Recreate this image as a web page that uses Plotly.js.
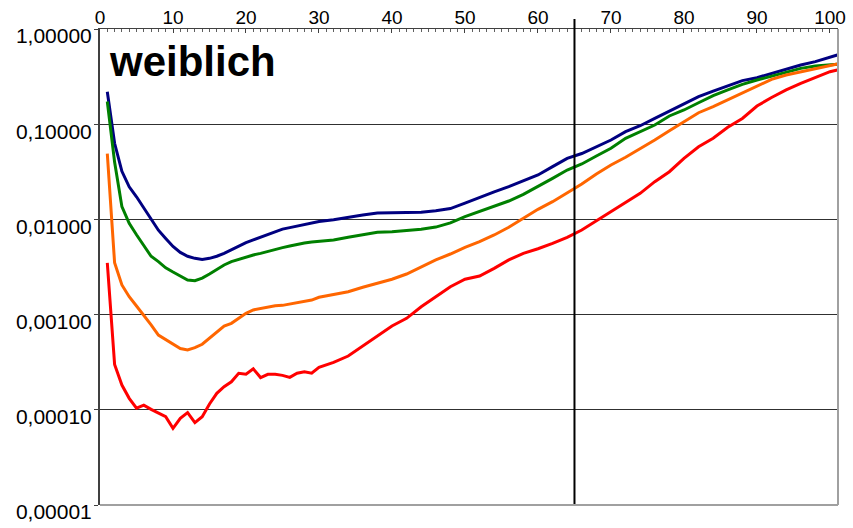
<!DOCTYPE html>
<html>
<head>
<meta charset="utf-8">
<script src="https://cdn.plot.ly/plotly-3.0.1.min.js"></script>
<style>html,body{margin:0;padding:0;background:#fff;}#chart{width:853px;height:528px;}</style>
</head>
<body>
<div id="chart"></div>
<script>
// x positions (age slots) of the points
var pos = [1,2,3,4,5,6,7,8,9,10,11,12,13,14,15,16,17,18,19,20,21,22,23,24,25,26,27,28,29,30,
  32,34,36,38,40,42,44,46,48,50,52,54,56,58,60,62,64,66,68,70,72,74,76,78,80,82,84,86,88,90,92,94,96,98,100,101];

var navy = [0.219,0.063,0.032,0.022,0.0173,0.0131,0.0099,0.0077,0.0063,0.0052,0.0045,0.0041,0.0039,0.0038,0.0039,0.0041,0.0044,0.0048,0.0053,0.0057,0.0061,0.0065,0.0070,0.0074,0.0079,0.0082,0.0085,0.0089,0.0092,0.0095,
  0.0099,0.0104,0.0111,0.0117,0.0117,0.0118,0.0119,0.0123,0.0130,0.0148,0.0171,0.0195,0.0221,0.0255,0.0293,0.0358,0.0438,0.0492,0.0583,0.0682,0.0834,0.0964,0.115,0.138,0.163,0.195,0.223,0.254,0.287,0.308,0.342,0.377,0.419,0.454,0.504,0.533];

var green = [0.173,0.040,0.0136,0.0091,0.0069,0.0054,0.0041,0.0036,0.0031,0.0028,0.00254,0.00231,0.00227,0.00242,0.00267,0.0030,0.00332,0.0036,0.00381,0.00406,0.00423,0.0044,0.00458,0.00485,0.00505,0.00526,0.00547,0.00565,0.00579,0.00589,
  0.00608,0.00649,0.00686,0.00731,0.0074,0.0076,0.0079,0.0083,0.0092,0.0107,0.0121,0.0136,0.0156,0.0183,0.0221,0.027,0.033,0.0382,0.0463,0.0558,0.0711,0.0834,0.098,0.122,0.141,0.168,0.200,0.229,0.262,0.291,0.321,0.356,0.386,0.409,0.422,0.426];

var orange = [0.049,0.0035,0.00205,0.00154,0.00123,0.00099,0.00078,0.00061,0.00055,0.00049,0.00044,0.000425,0.000449,0.000488,0.000564,0.000661,0.000759,0.00081,0.000914,0.00103,0.00112,0.00116,0.00121,0.00124,0.00125,0.00129,0.00133,0.00137,0.00142,0.00152,
  0.00163,0.00174,0.00194,0.00213,0.00235,0.00267,0.00318,0.00375,0.00433,0.00509,0.00583,0.00686,0.00826,0.01026,0.01276,0.01535,0.0188,0.0235,0.030,0.0373,0.045,0.055,0.0682,0.0855,0.106,0.132,0.153,0.18,0.214,0.254,0.296,0.329,0.356,0.386,0.419,0.429];

var red = [0.0035,0.0003,0.000182,0.000132,0.000104,0.000112,0.000101,0.0000918,0.0000847,0.0000638,0.0000814,0.0000933,0.0000733,0.0000847,0.000115,0.000149,0.000175,0.000197,0.000242,0.000236,0.000269,0.000218,0.000236,0.000236,0.00023,0.000219,0.000242,0.000251,0.000242,0.000279,
  0.000315,0.000367,0.000468,0.000586,0.000759,0.000914,0.00121,0.00154,0.00196,0.00235,0.00254,0.00306,0.00375,0.0044,0.00492,0.00561,0.00649,0.00774,0.0097,0.0119,0.0152,0.0188,0.0249,0.0317,0.0438,0.058,0.0711,0.0927,0.115,0.155,0.191,0.229,0.269,0.308,0.356,0.371];

var xTicks = [0,10,20,30,40,50,60,70,80,90,100];
var yTicks = [0.00001,0.0001,0.001,0.01,0.1,1];
var yTickText = ['0,00001','0,00010','0,00100','0,01000','0,10000','1,00000'];
var markAge = 65;
var titleText = 'weiblich';

var series = [
  {y: navy, color: '#000080'},
  {y: green, color: '#008000'},
  {y: orange, color: '#FF6600'},
  {y: red, color: '#FF0000'}
];
var traces = series.map(function(s){
  return {x: pos, y: s.y, type: 'scatter', mode: 'lines', line: {color: s.color, width: 3}, hoverinfo: 'skip', showlegend: false};
});

var layout = {
  width: 853, height: 528,
  margin: {l: 100, r: 15, t: 29, b: 23, pad: 0},
  paper_bgcolor: '#fff', plot_bgcolor: '#fff',
  font: {family: 'Liberation Sans, Arial, sans-serif', color: '#000'},
  showlegend: false,
  xaxis: {
    side: 'top', range: [0, 101.1], tickmode: 'array', tickvals: xTicks,
    ticks: 'inside', ticklen: 4, tickcolor: '#404040', tickwidth: 1,
    minor: {dtick: 1, tick0: 0, ticks: 'inside', ticklen: 3, tickcolor: '#606060', tickwidth: 1, showgrid: false},
    showgrid: false, zeroline: false, showline: true, linecolor: '#404040', linewidth: 1,
    tickfont: {size: 19}, ticklabelstandoff: -4
  },
  yaxis: {
    type: 'log', range: [-5, 0], tickmode: 'array', tickvals: yTicks, ticktext: yTickText,
    ticks: 'outside', ticklen: 4, tickcolor: '#404040', tickwidth: 1,
    showgrid: true, gridcolor: '#303030', gridwidth: 1, zeroline: false,
    showline: true, linecolor: '#404040', linewidth: 2,
    tickfont: {size: 21}, ticklabelshift: 7, ticklabelstandoff: -2
  },
  shapes: [
    {type: 'line', xref: 'x', yref: 'paper', x0: markAge, x1: markAge, y0: 0, y1: 1.021, line: {color: '#000', width: 2}},
    {type: 'line', xref: 'paper', yref: 'paper', x0: 1, x1: 1, y0: 0, y1: 1, line: {color: '#a0a0a0', width: 2}},
    {type: 'line', xref: 'paper', yref: 'paper', x0: 0, x1: 1, y0: 0, y1: 0, line: {color: '#a0a0a0', width: 2}}
  ],
  annotations: [
    {text: '<b>' + titleText + '</b>', xref: 'paper', yref: 'paper', x: 7/738, y: 1 - 33/476, xanchor: 'left', yanchor: 'middle', showarrow: false, font: {size: 42, color: '#000', family: 'Liberation Sans, Arial, sans-serif'}}
  ]
};

Plotly.newPlot('chart', traces, layout, {staticPlot: true, displayModeBar: false});
</script>
</body>
</html>
